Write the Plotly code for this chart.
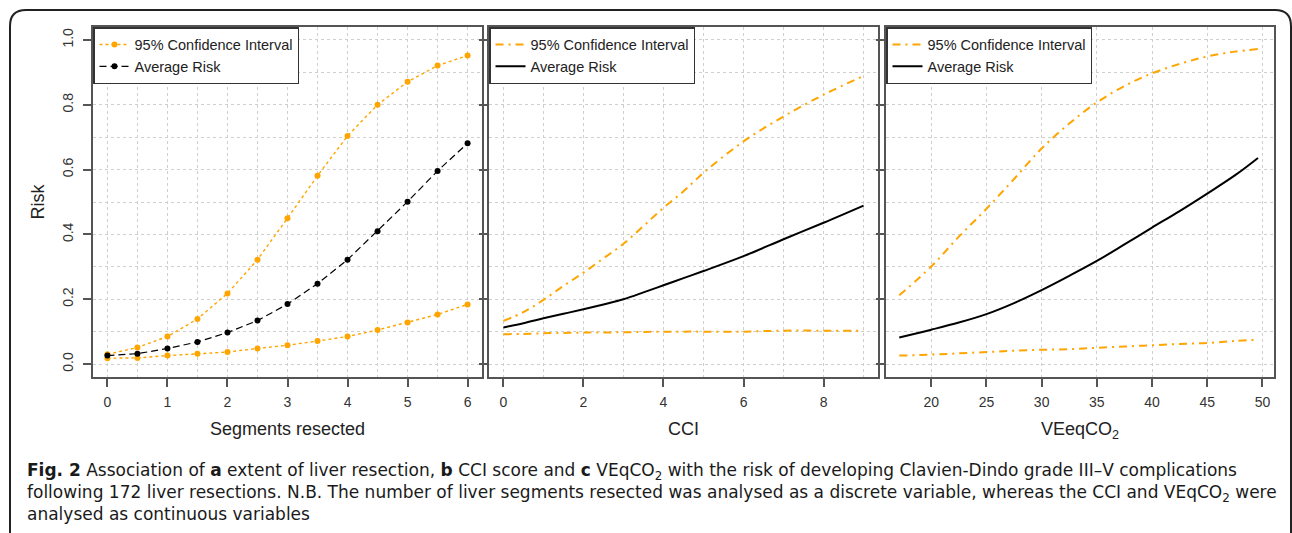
import plotly.graph_objects as go

# ---------------- data ----------------
seg_x = [0, 0.5, 1, 1.5, 2, 2.5, 3, 3.5, 4, 4.5, 5, 5.5, 6]
seg_avg = [0.026, 0.032, 0.048, 0.068, 0.097, 0.134, 0.185, 0.248, 0.322, 0.41, 0.501, 0.596, 0.681]
seg_hi = [0.030, 0.051, 0.085, 0.139, 0.218, 0.322, 0.450, 0.581, 0.704, 0.800, 0.871, 0.921, 0.952]
seg_lo = [0.018, 0.019, 0.026, 0.032, 0.037, 0.048, 0.058, 0.071, 0.085, 0.105, 0.128, 0.153, 0.184]

cci_x = [0, 0.5, 1, 1.5, 2, 2.5, 3, 3.5, 4, 4.5, 5, 6, 7, 8, 9]
cci_avg = [0.113, 0.126, 0.141, 0.155, 0.169, 0.184, 0.200, 0.221, 0.243, 0.265, 0.287, 0.333, 0.385, 0.436, 0.489]
cci_hi = [0.133, 0.160, 0.198, 0.241, 0.282, 0.326, 0.371, 0.426, 0.482, 0.533, 0.590, 0.687, 0.764, 0.831, 0.889]
cci_lo = [0.092, 0.093, 0.095, 0.096, 0.097, 0.0975, 0.098, 0.099, 0.0995, 0.100, 0.100, 0.100, 0.103, 0.103, 0.103]

ve_x = [17.1, 20, 22.5, 25, 27.5, 30, 32.5, 35, 37.5, 40, 42.5, 45, 47.5, 49.6]
ve_avg = [0.082, 0.106, 0.128, 0.154, 0.188, 0.228, 0.272, 0.318, 0.369, 0.421, 0.472, 0.526, 0.582, 0.636]
ve_hi = [0.212, 0.301, 0.393, 0.479, 0.571, 0.665, 0.742, 0.807, 0.858, 0.897, 0.926, 0.949, 0.964, 0.972]
ve_lo = [0.026, 0.029, 0.033, 0.037, 0.041, 0.044, 0.046, 0.050, 0.054, 0.058, 0.062, 0.065, 0.071, 0.075]

ci_name = "95% Confidence Interval"
avg_name = "Average Risk"

caption_lines = [
    "<b>Fig. 2</b> Association of <b>a</b> extent of liver resection, <b>b</b> CCI score and <b>c</b> VEqCO<sub>2</sub> "
    "with the risk of developing Clavien-Dindo grade III–V complications",
    "following 172 liver resections. N.B. The number of liver segments resected was analysed as a discrete "
    "variable, whereas the CCI and VEqCO<sub>2</sub> were",
    "analysed as continuous variables",
]

# ---------------- styling ----------------
W, H = 1292, 533
ORANGE = "#FFA500"
AXC = "#555555"
GRID = "#cfcfcf"
FONT = "Liberation Sans, Arial, sans-serif"
CAPFONT = "DejaVu Sans, Open Sans, sans-serif"


def px(x):
    return x / W


def py(y):
    return 1 - y / H


fig = go.Figure()

# Panel a
fig.add_trace(go.Scatter(x=seg_x, y=seg_hi, mode="lines+markers", name=ci_name,
                         line=dict(color=ORANGE, width=1.4, dash="dot"),
                         marker=dict(color=ORANGE, size=6), xaxis="x", yaxis="y", legend="legend"))
fig.add_trace(go.Scatter(x=seg_x, y=seg_lo, mode="lines+markers", name=ci_name, showlegend=False,
                         line=dict(color=ORANGE, width=1.4, dash="dot"),
                         marker=dict(color=ORANGE, size=6), xaxis="x", yaxis="y", legend="legend"))
fig.add_trace(go.Scatter(x=seg_x, y=seg_avg, mode="lines+markers", name=avg_name,
                         line=dict(color="black", width=1.2, dash="7px,4px"),
                         marker=dict(color="black", size=6), xaxis="x", yaxis="y", legend="legend"))

# Panel b
DD = "8px,5px,2px,5px"
fig.add_trace(go.Scatter(x=cci_x, y=cci_hi, mode="lines", name=ci_name, line_shape="spline",
                         line=dict(color=ORANGE, width=2, dash=DD), xaxis="x2", yaxis="y2", legend="legend2"))
fig.add_trace(go.Scatter(x=cci_x, y=cci_lo, mode="lines", name=ci_name, showlegend=False, line_shape="spline",
                         line=dict(color=ORANGE, width=2, dash=DD), xaxis="x2", yaxis="y2", legend="legend2"))
fig.add_trace(go.Scatter(x=cci_x, y=cci_avg, mode="lines", name=avg_name, line_shape="spline",
                         line=dict(color="black", width=2), xaxis="x2", yaxis="y2", legend="legend2"))

# Panel c
fig.add_trace(go.Scatter(x=ve_x, y=ve_hi, mode="lines", name=ci_name, line_shape="spline",
                         line=dict(color=ORANGE, width=2, dash=DD), xaxis="x3", yaxis="y3", legend="legend3"))
fig.add_trace(go.Scatter(x=ve_x, y=ve_lo, mode="lines", name=ci_name, showlegend=False, line_shape="spline",
                         line=dict(color=ORANGE, width=2, dash=DD), xaxis="x3", yaxis="y3", legend="legend3"))
fig.add_trace(go.Scatter(x=ve_x, y=ve_avg, mode="lines", name=avg_name, line_shape="spline",
                         line=dict(color="black", width=2), xaxis="x3", yaxis="y3", legend="legend3"))

ydom = [py(377), py(27)]


def xaxis(dom, rng, dtick, minor, title, anchor):
    d = dict(domain=dom, range=rng, dtick=dtick, tick0=0, anchor=anchor,
             showline=True, mirror=True, linecolor=AXC, linewidth=1.5,
             ticks="outside", ticklen=8, tickwidth=1.5, tickcolor=AXC, ticklabelstandoff=3,
             showgrid=True, gridcolor=GRID, griddash="dot", gridwidth=1, zeroline=False,
             tickfont=dict(family=FONT, size=14, color="#333"),
             title=dict(text=title, font=dict(family=FONT, size=18, color="#222"), standoff=14))
    if minor:
        d["minor"] = dict(dtick=minor, tick0=0, showgrid=True, gridcolor=GRID, griddash="dot", gridwidth=1)
    return d


def yaxis(anchor, labels):
    d = dict(domain=ydom, range=[-0.04, 1.04], dtick=0.2, tick0=0, anchor=anchor,
             showline=True, mirror=True, linecolor=AXC, linewidth=1.5,
             ticks="outside", ticklen=8, tickwidth=1.5, tickcolor=AXC, ticklabelstandoff=5,
             showgrid=True, gridcolor=GRID, griddash="dot", gridwidth=1, zeroline=False,
             minor=dict(dtick=0.1, tick0=0, showgrid=True, gridcolor=GRID, griddash="dot", gridwidth=1),
             showticklabels=labels, tickformat=".1f", tickangle=-90,
             tickfont=dict(family=FONT, size=14, color="#333"))
    if labels:
        d["title"] = dict(text="Risk", font=dict(family=FONT, size=18, color="#222"), standoff=10)
    return d


def legend(x0):
    return dict(x=px(x0), y=py(27), xanchor="left", yanchor="top", bgcolor="white",
                bordercolor="#333", borderwidth=1.5,
                font=dict(family=FONT, size=14.5, color="#222"), tracegroupgap=0)


fig.update_layout(
    width=W, height=H, margin=dict(l=0, r=0, t=0, b=0),
    paper_bgcolor="white", plot_bgcolor="white",
    xaxis=xaxis([px(93), px(482)], [-0.24, 6.24], 1, 0.5, "Segments resected", "y"),
    xaxis2=xaxis([px(489), px(878)], [-0.36, 9.36], 2, 1, "CCI", "y2"),
    xaxis3=xaxis([px(886), px(1274)], [15.9, 51.05], 5, None, "VEeqCO<sub>2</sub>", "y3"),
    yaxis=yaxis("x", True),
    yaxis2=yaxis("x2", False),
    yaxis3=yaxis("x3", False),
    legend=legend(93), legend2=legend(489), legend3=legend(886),
)

# outer rounded frame
frame = (f"M {px(10)},{py(545)} L {px(10)},{py(26)} Q {px(10)},{py(10)} {px(26)},{py(10)} "
         f"L {px(1275)},{py(10)} Q {px(1291)},{py(10)} {px(1291)},{py(26)} L {px(1291)},{py(545)}")
fig.add_shape(type="path", path=frame, xref="paper", yref="paper",
              line=dict(color="#222", width=2))

fig.add_annotation(text="<br>".join(caption_lines), x=px(25), y=py(492), xref="paper", yref="paper",
                   xanchor="left", yanchor="middle", showarrow=False, align="left",
                   font=dict(family=CAPFONT, size=17, color="#1a1a1a"))

fig.write_html("out.html", config={"displayModeBar": False},
               post_script="document.body.style.margin='0';document.body.style.overflow='hidden';")
